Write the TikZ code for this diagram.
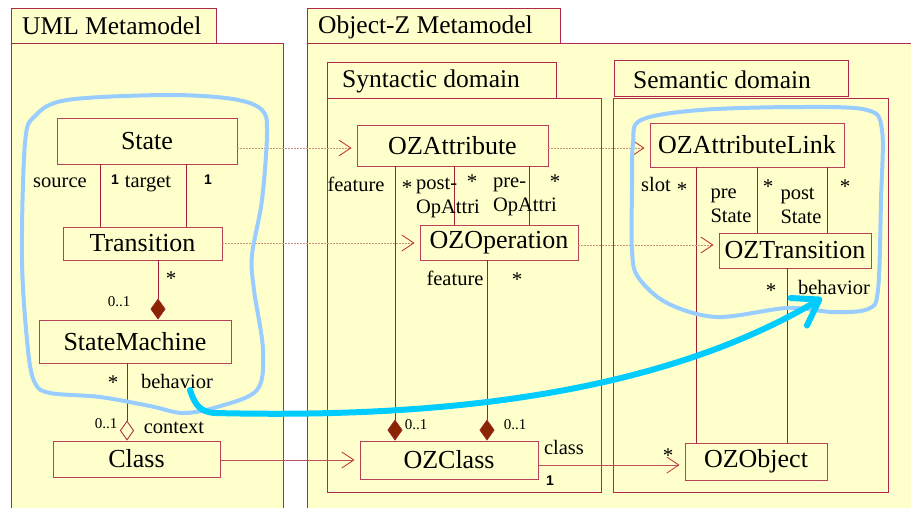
\documentclass[tikz,border=0pt]{standalone}
\usepackage{fontspec}
\setmainfont{Liberation Serif}
\setsansfont{Liberation Sans}
\usetikzlibrary{arrows.meta}

\definecolor{pkgfill}{HTML}{FFFFCC}
\definecolor{frame}{HTML}{B0284C}
\definecolor{boxline}{HTML}{B84058}
\definecolor{linkred}{HTML}{A0203A}
\definecolor{diamondfill}{HTML}{8B2500}
\definecolor{depline}{HTML}{C89078}
\definecolor{openarrow}{HTML}{C03030}
\definecolor{outline}{HTML}{99CCFF}
\definecolor{mapping}{HTML}{00CCFF}

\tikzset{
  pkg/.style={draw=frame, fill=pkgfill, line width=0.9pt},
  pkgtitle/.style={anchor=west, inner sep=0pt, font=\fontsize{25.5}{28}\selectfont},
  classbox/.style={draw=boxline, fill=pkgfill, line width=0.9pt, inner sep=0pt,
    font=\fontsize{26}{28}\selectfont},
  assoc/.style={draw=linkred, line width=0.8pt},
  lbl/.style={inner sep=0pt, font=\fontsize{20.5}{22}\selectfont},
  twoline/.style={inner sep=0pt, align=left, font=\fontsize{20.5}{24}\selectfont},
  mult/.style={inner sep=0pt, font=\fontsize{15}{17}\selectfont},
  one/.style={inner sep=0pt, font=\sffamily\bfseries\fontsize{14}{16}\selectfont},
  star/.style={inner sep=0pt, font=\fontsize{21}{22}\selectfont},
  opentip/.style={-{Straight Barb[length=12pt,width=16pt,color=openarrow,line width=0.8pt]}, shorten >=5pt},
  dep/.style={draw=depline, line width=0.6pt, dash pattern=on 2pt off 1pt, opentip},
  realize/.style={draw=boxline!80!depline, line width=0.8pt, opentip},
  compose/.style={assoc, -{Diamond[length=21pt,width=15pt,fill=diamondfill,color=linkred,line width=0.6pt]}},
  aggregate/.style={assoc, -{Diamond[length=20pt,width=14pt,fill=pkgfill,color=linkred,line width=0.8pt]}},
  region/.style={draw=outline, line width=4pt},
  mapto/.style={draw=mapping, line width=6pt, line cap=round,
    -{Straight Barb[length=24pt,width=32pt,round]}},
}

\begin{document}
\begin{tikzpicture}[x=1pt,y=-1pt]
\useasboundingbox[fill=white] (0,0) rectangle (911,507);

% packages
\draw[pkg] (11,43) rectangle (283,530);
\draw[pkg] (11,8) rectangle (216,43);
\node[pkgtitle] (umltitle) at (22,26) {UML Metamodel};

\draw[pkg] (307,43) rectangle (930,530);
\draw[pkg] (307,8) rectangle (560,43);
\node[pkgtitle] (oztitle) at (318,27) {Object-Z Metamodel};

\draw[pkg] (327,98) rectangle (601,492);
\draw[pkg] (327,62) rectangle (556,98);
\node[pkgtitle] (syntitle) at (342,81) {Syntactic domain};

\draw[pkg] (613,98) rectangle (888,492);
\draw[pkg] (614,60) rectangle (848,96);
\node[pkgtitle] (semtitle) at (633,80) {Semantic domain};

% classes
\node[classbox, minimum width=180pt, minimum height=46pt] (state) at (147,141) {State};
\node[classbox, minimum width=159pt, minimum height=33pt] (transition) at (142.5,243.5) {Transition};
\node[classbox, minimum width=192pt, minimum height=43pt] (machine) at (135,341.5) {StateMachine};
\node[classbox, minimum width=167pt, minimum height=36pt] (class) at (136.5,459) {Class\hspace{22pt}};

\node[classbox, minimum width=191pt, minimum height=41pt] (ozattr) at (452.5,145.5) {OZAttribute};
\node[classbox, minimum width=158pt, minimum height=35pt] (ozop) at (499,242.5) {OZOperation};
\node[classbox, minimum width=178pt, minimum height=38pt] (ozclass) at (449,460) {OZClass\hspace{14pt}};

\node[classbox, minimum width=194pt, minimum height=44pt] (ozlink) at (747,145) {OZAttributeLink};
\node[classbox, minimum width=152pt, minimum height=35pt] (oztrans) at (795,250.5) {OZTransition};
\node[classbox, minimum width=142pt, minimum height=37pt] (ozobj) at (756,461.5) {OZObject\hspace{10pt}};

% x positions of the association lines
\coordinate (xsrc) at (100,0);
\coordinate (xtgt) at (186,0);
\coordinate (xsub) at (158,0);
\coordinate (xctx) at (127,0);
\coordinate (xfeat) at (395,0);
\coordinate (xpost) at (454,0);
\coordinate (xpre) at (529,0);
\coordinate (xopf) at (487,0);
\coordinate (xslot) at (696,0);
\coordinate (xpres) at (757,0);
\coordinate (xposts) at (827,0);
\coordinate (xbeh) at (787,0);
% y positions of the mapping arrows
\coordinate (yattr) at (0,148);
\coordinate (ytrans) at (0,243);
\coordinate (yop) at (0,245);
\coordinate (yclass) at (0,460);
\coordinate (yobj) at (0,465);

% UML associations
\draw[assoc] (state.south -| xsrc) -- (transition.north -| xsrc);
\draw[assoc] (state.south -| xtgt) -- (transition.north -| xtgt);
\draw[compose] (transition.south -| xsub) -- (machine.north -| xsub);
\draw[aggregate] (machine.south -| xctx) -- (class.north -| xctx);

% syntactic domain associations
\draw[compose] (ozattr.south -| xfeat) -- (ozclass.north -| xfeat);
\draw[assoc] (ozattr.south -| xpost) -- (ozop.north -| xpost);
\draw[assoc] (ozattr.south -| xpre) -- (ozop.north -| xpre);
\draw[compose] (ozop.south -| xopf) -- (ozclass.north -| xopf);

% semantic domain associations
\draw[assoc] (ozlink.south -| xslot) -- (ozobj.north -| xslot);
\draw[assoc] (ozlink.south -| xpres) -- (oztrans.north -| xpres);
\draw[assoc] (ozlink.south -| xposts) -- (oztrans.north -| xposts);
\draw[assoc] (oztrans.south -| xbeh) -- (ozobj.north -| xbeh);

% mappings between the metamodels
\draw[dep] (state.east |- yattr) -- (ozattr.west |- yattr);
\draw[dep] (transition.east |- ytrans) -- (ozop.west |- ytrans);
\draw[realize] (class.east |- yclass) -- (ozclass.west |- yclass);
\draw[dep] (ozattr.east |- yattr) -- (ozlink.west |- yattr);
\draw[dep] (ozop.east |- yop) -- (oztrans.west |- yop);
\draw[realize] (ozclass.east |- yobj) -- (ozobj.west |- yobj);

% role names and multiplicities: UML
\node[lbl] (lsource) at (60,183) {source};
\node[one] (lone1) at (115,180) {1};
\node[lbl] (ltarget) at (148,184) {target};
\node[one] (lone2) at (208,180) {1};
\node[star] (lstar1) at (171,279) {*};
\node[mult] (lzo1) at (119,302) {0..1};
\node[star] (lstar2) at (113,383) {*};
\node[lbl] (lbeh1) at (177,381) {behavior};
\node[mult] (lzo2) at (106,424) {0..1};
\node[lbl] (lctx) at (174,428) {context};

% role names and multiplicities: syntactic domain
\node[lbl] (lfeat1) at (356,184) {feature};
\node[star] (lstar3) at (407,188) {*};
\node[twoline] (lpost) at (448,198) {post-\\OpAttri};
\node[star] (lstar4) at (472,182) {*};
\node[twoline] (lpre) at (525,197) {pre-\\OpAttri};
\node[star] (lstar5) at (555,182) {*};
\node[lbl] (lfeat2) at (455,278) {feature};
\node[star] (lstar6) at (517,280) {*};
\node[mult] (lzo3) at (416,425) {0..1};
\node[mult] (lzo4) at (515,425) {0..1};
\node[lbl] (lclass) at (564,447) {class};
\node[one] (lone3) at (550,481) {1};

% role names and multiplicities: semantic domain
\node[lbl] (lslot) at (656,184) {slot};
\node[star] (lstar7) at (682,190) {*};
\node[twoline] (lpres) at (731,206) {pre\\State};
\node[star] (lstar8) at (768,187) {*};
\node[twoline] (lposts) at (801,206) {post\\State};
\node[star] (lstar9) at (845,187) {*};
\node[star] (lstar10) at (771,291) {*};
\node[lbl] (lbeh2) at (834,287) {behavior};
\node[star] (lstar11) at (668,456) {*};

% regions that correspond to each other
\draw[region] plot[smooth cycle, tension=0.55] coordinates {
  (25,143) (35,116) (67,100) (167,95) (233,99) (262,110) (267,133)
  (262,200) (252,255) (254,290) (263,350) (257,390) (217,407) (183,413)
  (150,406) (100,397) (50,393) (35,383) (28,350) (22,260)};
\draw[region] plot[smooth cycle, tension=0.55] coordinates {
  (633,143) (641,120) (700,110) (800,107) (867,110) (882,130) (881,200)
  (878,290) (868,309) (833,312) (787,308) (717,317) (667,303) (638,277)
  (632,250) (632,190)};

% behaviour mapping
\coordinate (mstart) at (190,390);
\coordinate (mbend) at (215,413);
\coordinate (mend) at (822,298);
\draw[mapto] (mstart) .. controls (195,405) and (200,412) .. (mbend)
  .. controls (420,418) and (650,400) .. (mend);
\end{tikzpicture}
\end{document}
